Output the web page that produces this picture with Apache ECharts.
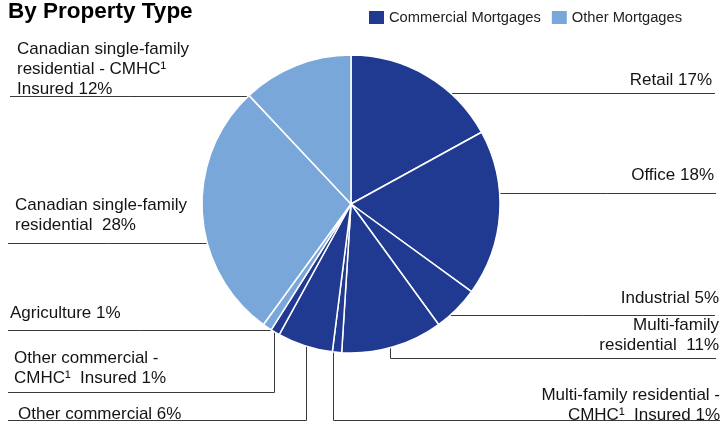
<!DOCTYPE html>
<html>
<head>
<meta charset="utf-8">
<script src="https://cdn.jsdelivr.net/npm/echarts@6/dist/echarts.min.js"></script>
<style>
html,body{margin:0;padding:0;background:#fff;}
#chart{width:722px;height:422px;}
</style>
</head>
<body>
<div id="chart"></div>
<script>
// ---- Data ----
var categories = ['Retail', 'Office', 'Industrial', 'Multi-family residential',
  'Multi-family residential - CMHC Insured', 'Other commercial',
  'Other commercial - CMHC Insured', 'Agriculture',
  'Canadian single-family residential', 'Canadian single-family residential - CMHC Insured'];
var values = [17, 18, 5, 11, 1, 6, 1, 1, 28, 12];
var groups = ['Commercial Mortgages', 'Commercial Mortgages', 'Commercial Mortgages', 'Commercial Mortgages',
  'Commercial Mortgages', 'Commercial Mortgages', 'Commercial Mortgages',
  'Other Mortgages', 'Other Mortgages', 'Other Mortgages'];
var labelTexts = ['Retail 17%', 'Office 18%', 'Industrial 5%', 'Multi-family\nresidential  11%',
  'Multi-family residential -\nCMHC\u00B9  Insured 1%', 'Other commercial 6%',
  'Other commercial -\nCMHC\u00B9  Insured 1%', 'Agriculture 1%',
  'Canadian single-family\nresidential  28%', 'Canadian single-family\nresidential - CMHC\u00B9\nInsured 12%'];
var groupNames = ['Commercial Mortgages', 'Other Mortgages'];

// ---- Styles / layout ----
var groupColors = { 'Commercial Mortgages': '#203a92', 'Other Mortgages': '#7aa7da' };
var CX = 351, CY = 204, R = 149;
// label layout: side, text anchor, leader line y, optional elbow x, line end x
var labelCfg = [
  { side: 'r', tx: 712, ty: 80, ly: 93.5, end: 715 },
  { side: 'r', tx: 714, ty: 175, ly: 193.5, end: 716 },
  { side: 'r', tx: 719, ty: 298, ly: 315.5, end: 715 },
  { side: 'r', tx: 719, ty: 335, ly: 358.5, ex: 390.5, end: 716 },
  { side: 'r', tx: 720, ty: 405, ly: 420.5, ex: 333.5, end: 720 },
  { side: 'l', tx: 18, ty: 414, ly: 420.5, ex: 306.5, end: 8 },
  { side: 'l', tx: 14, ty: 368, ly: 392.5, ex: 274.5, end: 8 },
  { side: 'l', tx: 10, ty: 313, ly: 330.5, end: 8 },
  { side: 'l', tx: 15, ty: 215, ly: 243.5, end: 8 },
  { side: 'l', tx: 17, ty: 69, ly: 96.5, end: 10 }
];

var pieData = categories.map(function (c, i) {
  return { name: c, value: values[i], itemStyle: { color: groupColors[groups[i]] } };
});

var FONT = 'Liberation Sans, Arial, sans-serif';
var chart = echarts.init(document.getElementById('chart'), null, { renderer: 'canvas' });
var series = [{
  type: 'pie',
  name: 'By Property Type',
  center: [CX, CY],
  radius: R,
  startAngle: 90,
  clockwise: true,
  avoidLabelOverlap: false,
  silent: true,
  itemStyle: { borderColor: '#ffffff', borderWidth: 1.5 },
  label: {
    show: true,
    position: 'outside',
    formatter: function (p) { return labelTexts[p.dataIndex]; },
    fontFamily: FONT,
    fontSize: 17,
    lineHeight: 20,
    color: '#141414'
  },
  labelLine: { show: true, length: 5, length2: 5, smooth: false,
    lineStyle: { color: '#3a3a3a', width: 1 } },
  labelLayout: function (params) {
    var c = labelCfg[params.dataIndex];
    var pts;
    if (c.ex !== undefined) {
      var ey = CY + Math.sqrt(Math.max(0, R * R - (c.ex - CX) * (c.ex - CX)));
      pts = [[c.ex, ey], [c.ex, c.ly], [c.end, c.ly]];
    } else {
      var dx = Math.sqrt(Math.max(0, R * R - (c.ly - CY) * (c.ly - CY)));
      var exx = c.side === 'r' ? CX + dx : CX - dx;
      pts = [[exx, c.ly], [(exx + c.end) / 2, c.ly], [c.end, c.ly]];
    }
    return {
      x: c.tx, y: c.ty,
      align: c.side === 'r' ? 'right' : 'left',
      verticalAlign: 'middle',
      labelLinePoints: pts
    };
  },
  data: pieData
}];
groupNames.forEach(function (g) {
  series.push({ type: 'pie', name: g, data: [], showEmptyCircle: false,
    itemStyle: { color: groupColors[g] }, silent: true });
});

chart.setOption({
  animation: false,
  backgroundColor: '#ffffff',
  title: {
    text: 'By Property Type',
    left: 8, top: 0, padding: 0,
    textStyle: { fontFamily: FONT, fontSize: 22.5, fontWeight: 'bold', color: '#000' }
  },
  legend: {
    data: groupNames,
    left: 369, top: 10, padding: 0,
    icon: 'rect', itemWidth: 15, itemHeight: 13, itemGap: 11,
    selectedMode: false,
    textStyle: { fontFamily: FONT, fontSize: 14.7, color: '#222' }
  },
  series: series
});
</script>
</body>
</html>
